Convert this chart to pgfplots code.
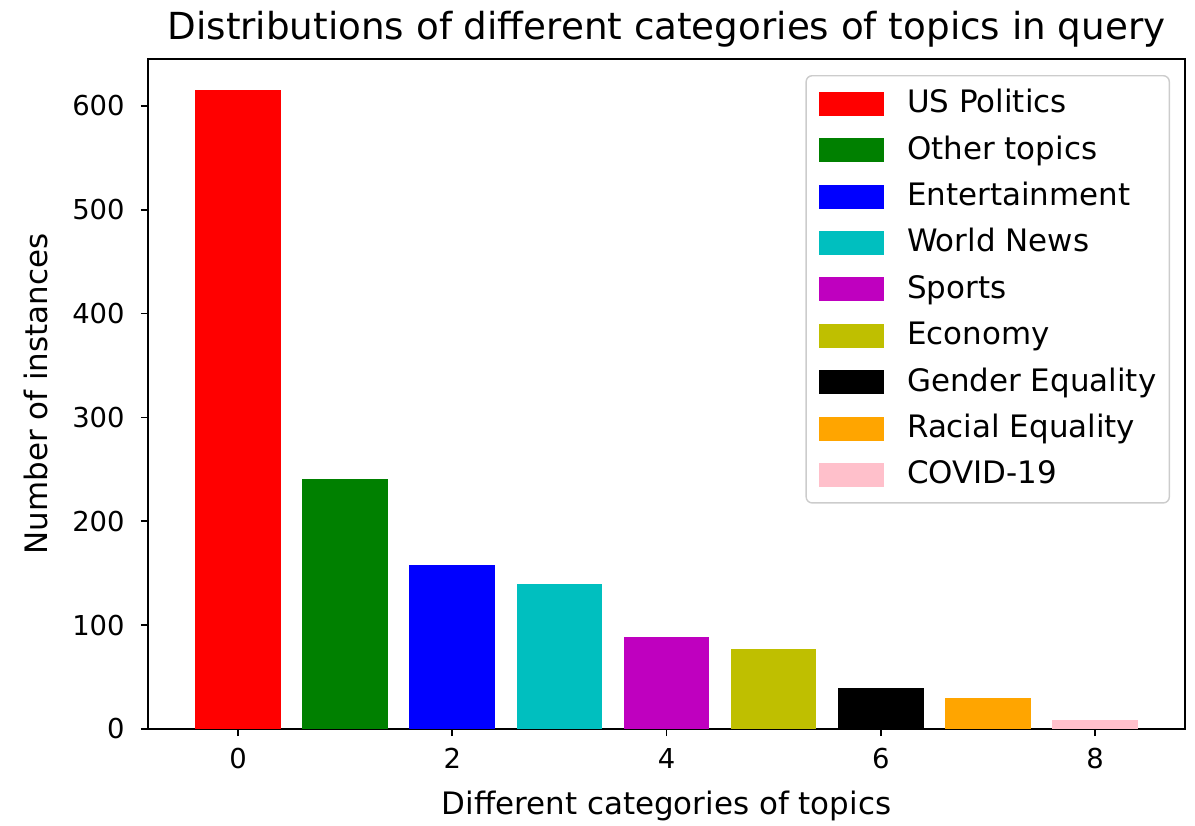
\documentclass[border=0pt]{standalone}
\usepackage{pgfplots}
\pgfplotsset{compat=1.18}
\usepackage{fontspec}
\setmainfont{DejaVu Sans}
\definecolor{mplc}{HTML}{00BFBF}
\definecolor{mplm}{HTML}{BF00BF}
\definecolor{mply}{HTML}{BFBF00}
\definecolor{mplorange}{HTML}{FFA500}
\definecolor{mplpink}{HTML}{FFC0CB}
\definecolor{mplgreen}{HTML}{008000}
\definecolor{edgegray}{HTML}{CCCCCC}
\newcommand{\fs}{\fontsize{7.8pt}{9pt}\selectfont}
\newcommand{\fl}{\fontsize{8.8pt}{10pt}\selectfont}
\begin{document}
\begin{tikzpicture}
\useasboundingbox (-1.48cm,-0.96cm) rectangle (10.47cm,7.29cm);
\begin{axis}[
  scale only axis,
  width=10.37cm, height=6.70cm,
  xmin=-0.84, xmax=8.84, ymin=0, ymax=645,
  xtick={0,2,4,6,8}, ytick={0,100,200,300,400,500,600},
  xtick pos=bottom, ytick pos=left,
  tick align=outside, major tick length=0.7mm,
  tick style={line width=0.5pt, black},
  axis line style={line width=0.55pt},
  /pgf/number format/assume math mode=true,
  ticklabel style={font=\fs},
  yticklabel style={xshift=-0.4mm},
  every axis title shift=0pt,
  title={Distributions of different categories of topics in query},
  title style={font=\fontsize{10.6pt}{12pt}\selectfont, at={(axis description cs:0.5,1)}, anchor=base, yshift=2.0mm},
  xlabel={Different categories of topics},
  ylabel={Number of instances},
  label style={font=\fl},
  xlabel style={at={(axis description cs:0.5,0)}, anchor=base, yshift=-8.5mm},
  ylabel style={at={(axis description cs:-0.108,0.5)}, anchor=center},
  ybar, bar width=0.8, bar shift=0pt,
  legend cell align=left,
  legend style={at={(1,1)}, anchor=north east, xshift=-1.5mm, yshift=-1.6mm,
    draw=edgegray, rounded corners=0.6mm, font=\fl, inner xsep=1.3mm, inner ysep=1.1mm,
    row sep=1.24mm, column sep=0pt,
    nodes={inner xsep=0pt, inner ysep=0pt, text height=2.6mm, text depth=0.8mm}},
  legend image code/.code={\fill[#1, sharp corners] (0cm,-0.12cm) rectangle (0.65cm,0.12cm); \path (0.88cm,0cm);},
]
\addplot[fill=red, draw=none] coordinates {(0,615)};
\addlegendentry{US Politics}
\addplot[fill=mplgreen, draw=none] coordinates {(1,241)};
\addlegendentry{Other topics}
\addplot[fill=blue, draw=none] coordinates {(2,158)};
\addlegendentry{Entertainment}
\addplot[fill=mplc, draw=none] coordinates {(3,140)};
\addlegendentry{World News}
\addplot[fill=mplm, draw=none] coordinates {(4,89)};
\addlegendentry{Sports}
\addplot[fill=mply, draw=none] coordinates {(5,77)};
\addlegendentry{Economy}
\addplot[fill=black, draw=none] coordinates {(6,39)};
\addlegendentry{Gender Equality}
\addplot[fill=mplorange, draw=none] coordinates {(7,30)};
\addlegendentry{Racial Equality}
\addplot[fill=mplpink, draw=none] coordinates {(8,9)};
\addlegendentry{COVID-19}
\end{axis}
\end{tikzpicture}
\end{document}
